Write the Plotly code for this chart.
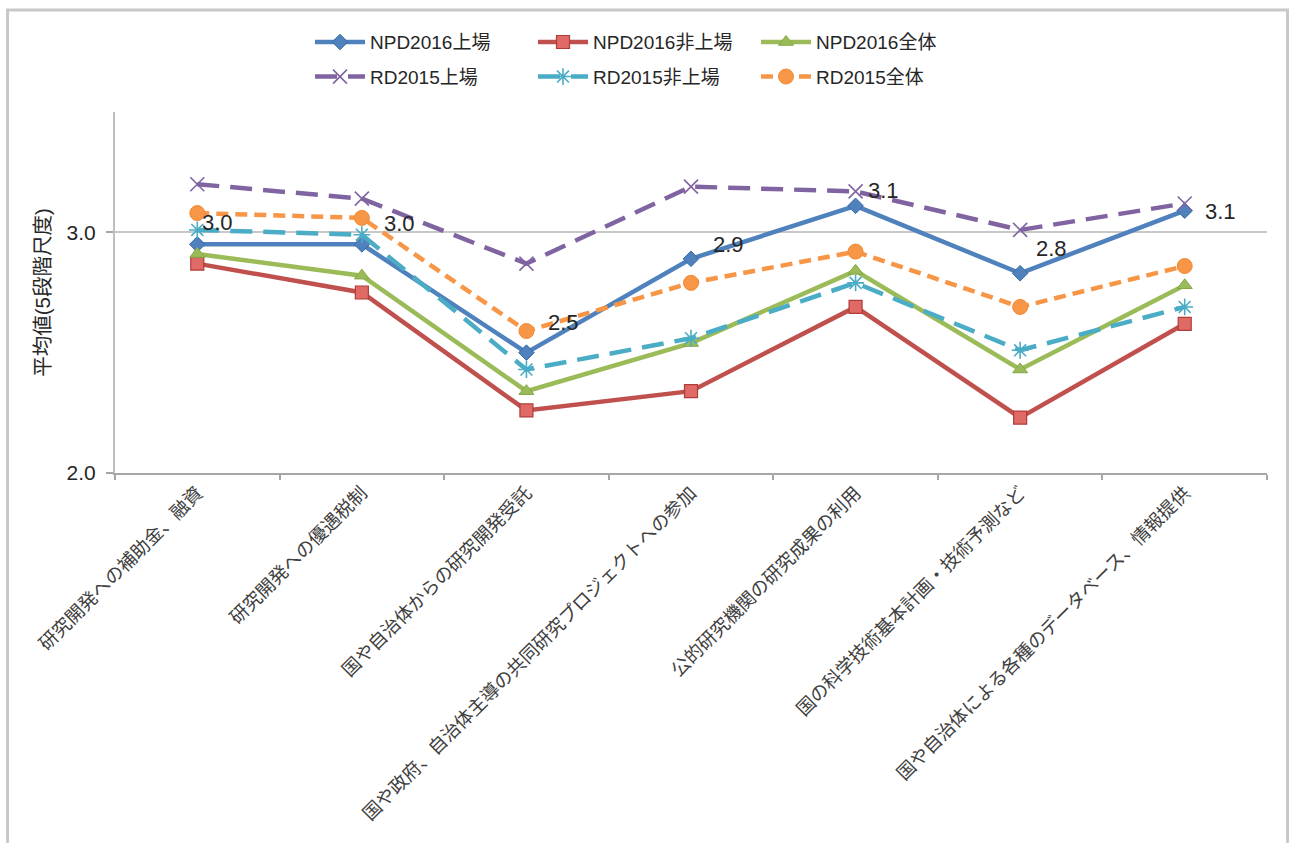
import plotly.graph_objects as go

categories = [
    "研究開発への補助金、融資",
    "研究開発への優遇税制",
    "国や自治体からの研究開発受託",
    "国や政府、自治体主導の共同研究プロジェクトへの参加",
    "公的研究機関の研究成果の利用",
    "国の科学技術基本計画・技術予測など",
    "国や自治体による各種のデータベース、情報提供",
]

npd2016_listed = [2.95, 2.95, 2.50, 2.89, 3.11, 2.83, 3.09]
npd2016_unlisted = [2.87, 2.75, 2.26, 2.34, 2.69, 2.23, 2.62]
npd2016_all = [2.91, 2.82, 2.34, 2.54, 2.84, 2.43, 2.78]
rd2015_listed = [3.20, 3.14, 2.87, 3.19, 3.17, 3.01, 3.12]
rd2015_unlisted = [3.01, 2.99, 2.43, 2.56, 2.79, 2.51, 2.69]
rd2015_all = [3.08, 3.06, 2.59, 2.79, 2.92, 2.69, 2.86]

FONT = "Liberation Sans, Noto Sans CJK JP, sans-serif"
TEXT = "#262626"

series = [
    dict(name="NPD2016上場", y=npd2016_listed, color="#4F81BD", dash="solid",
         marker=dict(symbol="diamond", size=12, line=dict(color="#3C6CA8", width=1)), legend="legend"),
    dict(name="NPD2016非上場", y=npd2016_unlisted, color="#C0504D", dash="solid",
         marker=dict(symbol="square", size=13, color="#E06A66", line=dict(color="#B03C39", width=1.2)), legend="legend"),
    dict(name="NPD2016全体", y=npd2016_all, color="#9BBB59", dash="solid",
         marker=dict(symbol="triangle-up", size=13, line=dict(color="#86A746", width=1)), legend="legend"),
    dict(name="RD2015上場", y=rd2015_listed, color="#8064A2", dash="22px,11px",
         marker=dict(symbol="x-thin-open", size=14, line=dict(color="#8064A2", width=1.6)), legend="legend2"),
    dict(name="RD2015非上場", y=rd2015_unlisted, color="#4BACC6", dash="22px,11px",
         marker=dict(symbol="asterisk-open", size=14, line=dict(color="#4BACC6", width=1.6)), legend="legend2"),
    dict(name="RD2015全体", y=rd2015_all, color="#F79646", dash="12px,7px",
         marker=dict(symbol="circle", size=15, line=dict(color="#F08A34", width=1)), legend="legend2"),
]

fig = go.Figure()
for s in series:
    mk = dict(s["marker"])
    mk.setdefault("color", s["color"])
    fig.add_trace(go.Scatter(
        x=categories, y=s["y"], name=s["name"], mode="lines+markers",
        line=dict(color=s["color"], width=4.5, dash=s["dash"]),
        marker=mk, legend=s["legend"],
    ))

# value labels for the NPD2016上場 series
label_xshift = [3, 20, 20, 20, 10, 14, 18]
label_yshift = [22, 21, 30, 14, 15, 25, -1]
for cat, v, dx, dy in zip(categories, npd2016_listed, label_xshift, label_yshift):
    fig.add_annotation(
        x=cat, y=v, text=f"{v:.1f}", showarrow=False,
        xanchor="left", yanchor="middle", xshift=dx, yshift=dy,
        font=dict(family=FONT, size=22, color=TEXT),
    )

# outer chart frame
fig.add_shape(type="rect", xref="paper", yref="paper",
              x0=-0.0933, x1=1.0178, y0=-1.2, y1=1.2825,
              line=dict(color="#C9C9C9", width=3), fillcolor="rgba(0,0,0,0)", layer="below")

legend_common = dict(
    orientation="h", xref="container", yref="container", x=0.5, xanchor="center",
    yanchor="middle", font=dict(family=FONT, size=19, color=TEXT),
    entrywidth=158, entrywidthmode="pixels", itemwidth=50, bgcolor="rgba(0,0,0,0)",
    tracegroupgap=0, itemclick=False,
)

fig.update_layout(
    width=1289, height=843,
    margin=dict(l=115, r=22, t=112, b=370),
    paper_bgcolor="white", plot_bgcolor="white",
    font=dict(family=FONT, size=17, color=TEXT),
    showlegend=True,
    legend=dict(legend_common, y=0.950),
    legend2=dict(legend_common, y=0.909),
    xaxis=dict(
        type="category", tickangle=-45, tickson="boundaries",
        ticks="outside", ticklen=5, tickcolor="#A6A6A6", tickwidth=1.5,
        showline=True, linecolor="#A6A6A6", linewidth=2,
        showgrid=False, tickfont=dict(family=FONT, size=18.5, color="#404040"),
        range=[-0.5, 6.5],
    ),
    yaxis=dict(
        range=[2.0, 3.5], tickvals=[2.0, 3.0], ticktext=["2.0", "3.0"],
        ticks="outside", ticklen=7, tickcolor="#A6A6A6", tickwidth=1.5,
        showline=True, linecolor="#BFBFBF", linewidth=2,
        showgrid=True, gridcolor="#C8C8C8", gridwidth=1.5, zeroline=False,
        tickfont=dict(family=FONT, size=21, color=TEXT), ticklabelstandoff=6,
        title=dict(text="平均値(5段階尺度)", font=dict(family=FONT, size=20.5, color=TEXT), standoff=10),
    ),
)

fig.write_html("out.html")
